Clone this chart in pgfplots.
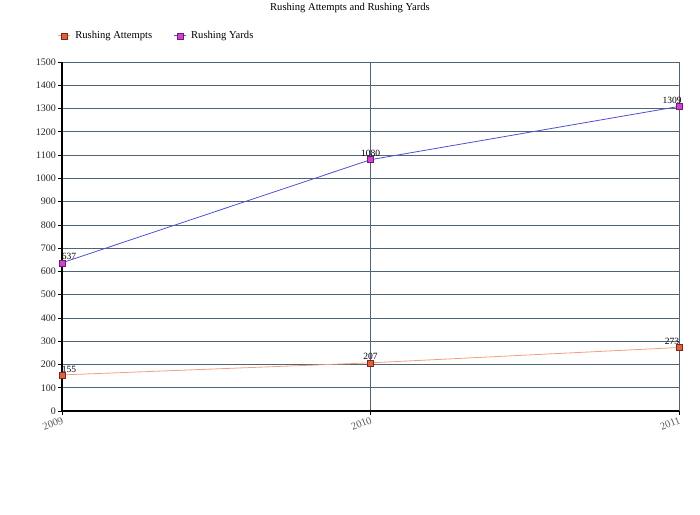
\documentclass[border=0pt]{standalone}
\usepackage{pgfplots}
\pgfplotsset{compat=1.18}
\usepackage{fontspec}
\setmainfont{Liberation Serif}
\definecolor{gridc}{RGB}{80,100,118}
\definecolor{attline}{RGB}{240,160,128}
\definecolor{attfill}{RGB}{224,96,56}
\definecolor{attdraw}{RGB}{120,40,30}
\definecolor{ydsline}{RGB}{80,80,210}
\definecolor{ydsfill}{RGB}{210,64,210}
\definecolor{ydsdraw}{RGB}{110,30,110}
\begin{document}
\begin{tikzpicture}[x=1pt,y=1pt]
\path[use as bounding box] (0,0) rectangle (700,514);
\node[font=\fontsize{10.6}{12}\selectfont] at (350,506) {Rushing Attempts and Rushing Yards};
\begin{axis}[
  at={(62pt,103pt)}, anchor=south west,
  scale only axis, width=617pt, height=349pt,
  xmin=2009, xmax=2011, ymin=0, ymax=1500,
  xtick={2009,2010,2011},
  xticklabels={2009,2010,2011},
  ytick={0,100,...,1500},
  /pgf/number format/assume math mode=true,
  /pgf/number format/1000 sep={},
  axis x line*=bottom, axis y line*=left,
  axis line style={black, line width=1.2pt, -},
  ymajorgrids, xmajorgrids,
  major grid style={gridc, line width=0.6pt},
  tick style={black, line width=0.6pt},
  major tick length=4pt,
  tick align=outside,
  tick label style={font=\fontsize{10}{11}\selectfont},
  xticklabel style={rotate=22, anchor=north east, inner sep=1pt, text=black!65,
    font=\fontsize{10.5}{11}\selectfont},
  yticklabel style={inner sep=2pt, text=black!85},
  legend columns=2,
  legend style={draw=none, fill=none, at={(-0.012,1.0745)}, anchor=west,
    font=\fontsize{10.6}{12}\selectfont,
    /tikz/every odd column/.append style={column sep=3pt},
    /tikz/every even column/.append style={column sep=20pt},
    nodes={inner sep=1.5pt}},
  legend image code/.code={
    \draw[#1, line width=1pt, mark=none] (0pt,0pt) -- (12pt,0pt);
    \draw[#1, only marks] plot coordinates {(6pt,0pt)};},
  visualization depends on={(2010-x)*7 \as \lblshift},
  nodes near coords,
  every node near coord/.append style={font=\fontsize{9.5}{10}\selectfont, black,
    inner sep=0.5pt, anchor=south, yshift=2pt, xshift=\lblshift pt},
  clip=false,
]
\addplot[attline, line width=0.8pt, mark=square*, mark size=3pt,
  mark options={fill=attfill, draw=attdraw, line width=0.5pt}]
  coordinates {(2009,155) (2010,207) (2011,273)};
\addlegendentry{Rushing Attempts}
\addplot[ydsline, line width=0.8pt, mark=square*, mark size=3pt,
  mark options={fill=ydsfill, draw=ydsdraw, line width=0.5pt}]
  coordinates {(2009,637) (2010,1080) (2011,1309)};
\addlegendentry{Rushing Yards}
\end{axis}
\end{tikzpicture}
\end{document}
